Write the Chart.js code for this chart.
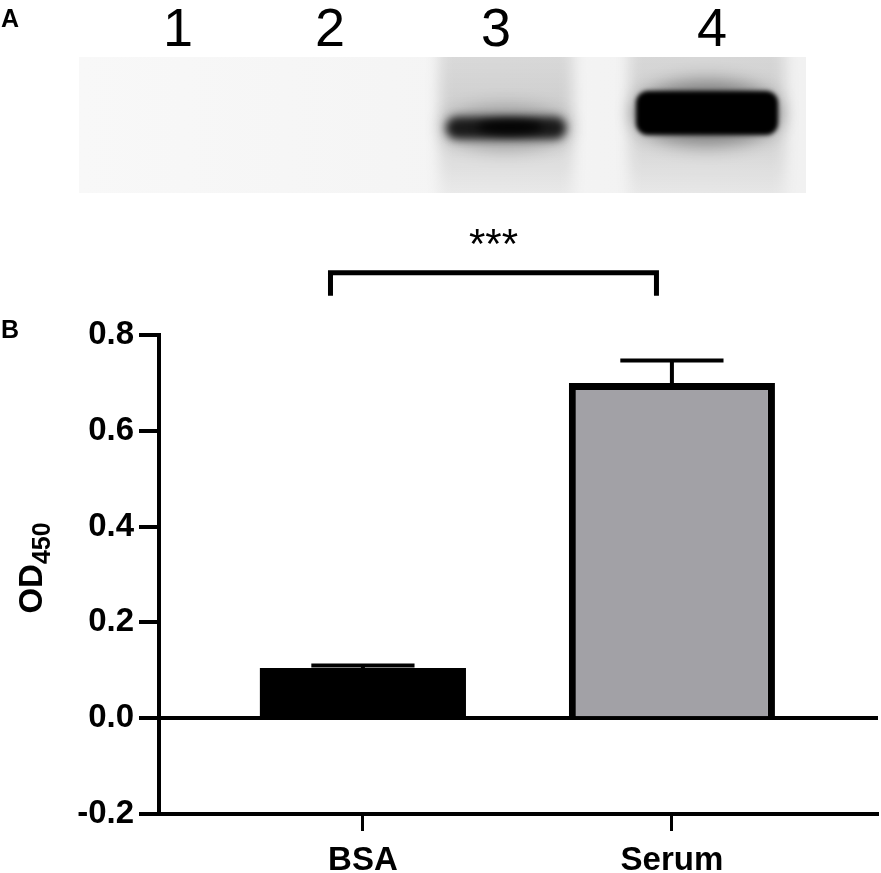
<!DOCTYPE html>
<html>
<head>
<meta charset="utf-8">
<script src="https://cdn.jsdelivr.net/npm/chart.js@4/dist/chart.umd.min.js"></script>
<style>
  html, body { margin: 0; padding: 0; background: #fff; }
  #wrap { width: 881px; height: 873px; }
</style>
</head>
<body>
<div id="wrap"><canvas id="odChart" width="881" height="873"></canvas></div>
<script>
// panel B data
const groups = ["BSA", "Serum"];
const odMean = [0.105, 0.70];
const odSd = [0.005, 0.047];
const yTicks = [-0.2, 0.0, 0.2, 0.4, 0.6, 0.8];
const barColors = ["#000000", "#a2a1a6"];
const barBorders = [0, 7];
// panel A (blot) lanes
const laneLabels = ["1", "2", "3", "4"];
const bandIntensity = [0, 0, 0.55, 1];
const significance = "***";

const FONT = '"Liberation Sans", Arial, Helvetica, sans-serif';

// blot layout (pixels)
const blot = { x: 79, y: 57, w: 727, h: 136 };
const labelX = [178, 330, 496, 712];
const bandX = [178, 330, 506, 707];
const bandW = [120, 120, 126, 148];
const bandTop = [0, 0, 117, 91];
const bandBottom = [0, 0, 139, 135];

// bracket spec in axis units
const bracketFrom = -0.105, bracketTo = 0.95, bracketLevel = 0.93, bracketDrop = 0.048;
const capHalf = 0.167;

function drawBlot(ctx) {
    ctx.save();
    ctx.beginPath();
    ctx.rect(blot.x, blot.y, blot.w, blot.h);
    ctx.clip();
    const bg = ctx.createLinearGradient(blot.x, 0, blot.x + blot.w, 0);
    bg.addColorStop(0, "#f8f8f8");
    bg.addColorStop(1, "#f1f1f1");
    ctx.fillStyle = bg;
    ctx.fillRect(blot.x, blot.y, blot.w, blot.h);

    bandIntensity.forEach(function (s, i) {
        if (s <= 0) return;
        const cx = bandX[i], lw = bandW[i];
        const mid = (bandTop[i] + bandBottom[i]) / 2;
        // smear down the lane
        ctx.filter = "blur(7px)";
        const sm = ctx.createLinearGradient(0, blot.y, 0, blot.y + blot.h);
        sm.addColorStop(0, "rgba(0,0,0,0.11)");
        sm.addColorStop(0.45, "rgba(0,0,0,0.16)");
        sm.addColorStop(1, "rgba(0,0,0,0.04)");
        ctx.fillStyle = sm;
        ctx.fillRect(cx - lw / 2 - 4, blot.y - 20, lw + 8, blot.h + 40);
        // halo round the band
        ctx.filter = "blur(9px)";
        ctx.fillStyle = "rgba(0,0,0," + (0.3 * s + 0.1) + ")";
        ctx.beginPath();
        ctx.ellipse(cx, mid, lw / 2, (bandBottom[i] - bandTop[i]) / 2 + 10, 0, 0, Math.PI * 2);
        ctx.fill();
        // band
        ctx.filter = s > 0.8 ? "blur(2px)" : "blur(4px)";
        ctx.fillStyle = "rgba(0,0,0," + Math.min(1, 0.45 + 0.7 * s) + ")";
        ctx.beginPath();
        ctx.roundRect(cx - lw / 2 + 3, bandTop[i], lw - 6, bandBottom[i] - bandTop[i], 12);
        ctx.fill();
        if (s < 0.8) {
            ctx.filter = "blur(4px)";
            ctx.fillStyle = "rgba(0,0,0,0.85)";
            ctx.beginPath();
            ctx.ellipse(cx + 4, mid - 1, lw * 0.26, 7, 0, 0, Math.PI * 2);
            ctx.fill();
        }
    });
    ctx.restore();
}

const panelPlugin = {
    id: "panels",
    beforeDraw(chart) {
        const ctx = chart.ctx;
        ctx.save();
        ctx.fillStyle = "#fff";
        ctx.fillRect(0, 0, chart.width, chart.height);
        drawBlot(ctx);
        ctx.fillStyle = "#000";
        ctx.textBaseline = "alphabetic";
        ctx.textAlign = "left";
        ctx.font = "bold 25px " + FONT;
        ctx.fillText("A", 1, 27);
        ctx.fillText("B", 1, 338);
        ctx.textAlign = "center";
        ctx.font = "54px " + FONT;
        laneLabels.forEach(function (t, i) {
            ctx.fillText(t, labelX[i], 46);
        });
        // y axis title with subscript
        ctx.translate(42, 568);
        ctx.rotate(-Math.PI / 2);
        ctx.textAlign = "left";
        ctx.font = "bold 33px " + FONT;
        const w1 = ctx.measureText("OD").width;
        ctx.font = "bold 25px " + FONT;
        const w2 = ctx.measureText("450").width;
        const start = -(w1 + w2) / 2;
        ctx.font = "bold 33px " + FONT;
        ctx.fillText("OD", start, 0);
        ctx.font = "bold 25px " + FONT;
        ctx.fillText("450", start + w1, 8);
        ctx.restore();
    },
    afterDraw(chart) {
        const ctx = chart.ctx;
        const x = chart.scales.x, y = chart.scales.y;
        const x1 = x.getPixelForValue(bracketFrom);
        const x2 = x.getPixelForValue(bracketTo);
        const yb = y.getPixelForValue(bracketLevel);
        const yd = y.getPixelForValue(bracketLevel - bracketDrop);
        ctx.save();
        ctx.strokeStyle = "#000";
        ctx.lineWidth = 5;
        ctx.lineJoin = "miter";
        ctx.beginPath();
        ctx.moveTo(x1, yd);
        ctx.lineTo(x1, yb);
        ctx.lineTo(x2, yb);
        ctx.lineTo(x2, yd);
        ctx.stroke();
        ctx.fillStyle = "#000";
        ctx.font = "42px " + FONT;
        ctx.textAlign = "center";
        ctx.textBaseline = "alphabetic";
        ctx.fillText(significance, (x1 + x2) / 2, yb - 15);
        ctx.restore();
    }
};

const errorBarPlugin = {
    id: "errorBars",
    afterDatasetsDraw(chart) {
        const ctx = chart.ctx;
        const x = chart.scales.x, y = chart.scales.y;
        ctx.save();
        ctx.strokeStyle = "#000";
        ctx.lineWidth = 4;
        odMean.forEach(function (m, i) {
            const px = x.getPixelForValue(i);
            const half = x.getPixelForValue(i + capHalf) - px;
            const base = y.getPixelForValue(m);
            const top = y.getPixelForValue(m + odSd[i]);
            ctx.beginPath();
            ctx.moveTo(px, base);
            ctx.lineTo(px, top);
            ctx.moveTo(px - half, top);
            ctx.lineTo(px + half, top);
            ctx.stroke();
        });
        ctx.restore();
    }
};

const ctx = document.getElementById("odChart").getContext("2d");
const chart = new Chart(ctx, {
    type: "bar",
    data: {
        datasets: [{
            data: odMean.map(function (v, i) { return { x: i, y: v }; }),
            backgroundColor: barColors,
            borderColor: "#000",
            borderWidth: barBorders,
            barPercentage: 0.667,
            categoryPercentage: 1
        }]
    },
    options: {
        responsive: false,
        animation: false,
        layout: { padding: { top: 335, right: 3, left: 0, bottom: 0 } },
        plugins: {
            legend: { display: false },
            tooltip: { enabled: false }
        },
        scales: {
            x: {
                type: "linear",
                offset: false,
                min: -0.66,
                max: 1.667,
                afterBuildTicks: function (s) {
                    s.ticks = groups.map(function (g, i) { return { value: i }; });
                },
                afterFit: function (s) { s.height = 59; },
                ticks: {
                    color: "#000",
                    padding: 10,
                    autoSkip: false,
                    maxRotation: 0,
                    font: { family: FONT, size: 33, weight: "bold" },
                    callback: function (v) { return groups[v] !== undefined ? groups[v] : ""; }
                },
                grid: {
                    drawOnChartArea: false,
                    offset: false,
                    color: "#000",
                    tickColor: "#000",
                    tickWidth: 3,
                    tickLength: 17
                },
                border: { color: "#000", width: 4 }
            },
            y: {
                min: -0.2,
                max: 0.8,
                afterBuildTicks: function (s) {
                    s.ticks = yTicks.map(function (v) { return { value: v }; });
                },
                afterFit: function (s) { s.width = 159; },
                ticks: {
                    color: "#000",
                    padding: 5,
                    font: { family: FONT, size: 33, weight: "bold" },
                    callback: function (v) { return Number(v).toFixed(1); }
                },
                grid: {
                    color: function (c) { return c.tick && c.tick.value === 0 ? "#000" : "rgba(0,0,0,0)"; },
                    lineWidth: function (c) { return c.tick && c.tick.value === 0 ? 4 : 0; },
                    tickColor: "#000",
                    tickWidth: 4,
                    tickLength: 20
                },
                border: { color: "#000", width: 4 }
            }
        }
    },
    plugins: [panelPlugin, errorBarPlugin]
});
</script>
</body>
</html>
